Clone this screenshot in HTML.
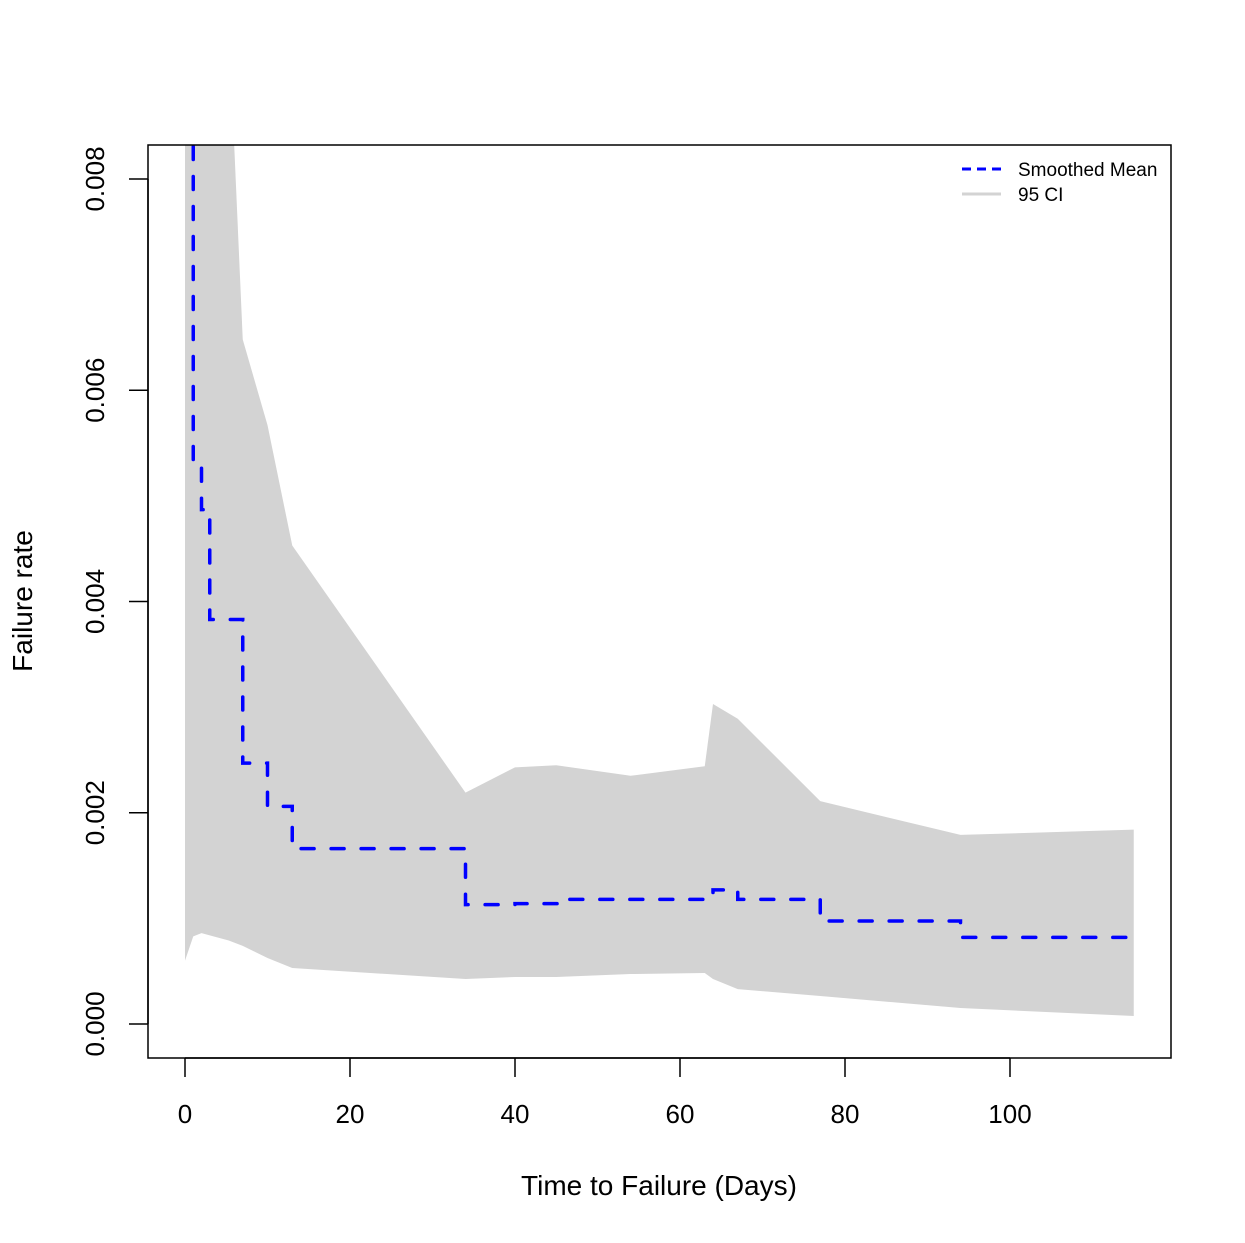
<!DOCTYPE html>
<html><head><meta charset="utf-8"><style>
body{margin:0;background:#fff}
svg{display:block;font-family:"Liberation Sans",Arial,sans-serif}
</style></head><body>
<svg id="c" width="1245" height="1243">
<defs><clipPath id="clip"><rect x="148" y="145" width="1023" height="913"/></clipPath></defs>
<g id="plot" clip-path="url(#clip)"></g>
<rect x="148" y="145" width="1023" height="913" fill="none" stroke="#000" stroke-width="1.5"/>
<g id="axes"></g>
<text x="659" y="1195" font-size="28" text-anchor="middle">Time to Failure (Days)</text>
<text transform="translate(32,601) rotate(-90)" font-size="28" text-anchor="middle">Failure rate</text>
<g>
<line x1="962" y1="169" x2="1001" y2="169" stroke="#00f" stroke-width="3" stroke-dasharray="9 6"/>
<text x="1018" y="176" font-size="19">Smoothed Mean</text>
<line x1="962" y1="194" x2="1001" y2="194" stroke="#d3d3d3" stroke-width="3"/>
<text x="1018" y="201" font-size="19">95 CI</text>
</g>
</svg>
<script>
const ciX=[0,1,2,5.3,7,10,13,34,40,45,54,63,64,67,77,94,115];
const ciUpper=[0.0095,0.0095,0.0095,0.0095,0.00648,0.00567,0.00453,0.00219,0.00243,0.00245,0.00235,0.00244,0.00303,0.00289,0.00211,0.00179,0.00184];
const ciLower=[0.0006,0.00083,0.00086,0.00079,0.00074,0.000625,0.00053,0.000426,0.000445,0.000445,0.000473,0.000483,0.000426,0.00033,0.000265,0.000151,0.000076];
const meanX=[1,1,2,3,7,10,13,34,40,46,54,63,64,67,77,94,115];
const meanY=[0.012,0.0053,0.00487,0.00383,0.00247,0.00206,0.00166,0.00113,0.00114,0.00118,0.00118,0.00118,0.00127,0.00118,0.000975,0.00082,0.00082];
const xTicks=[0,20,40,60,80,100];
const yTicks=[0,0.002,0.004,0.006,0.008];
const yTickLabels=["0.000","0.002","0.004","0.006","0.008"];
const sx=v=>185+v*8.25, sy=v=>1024-v*105625;
const NS="http://www.w3.org/2000/svg";
const plot=document.getElementById('plot'), axes=document.getElementById('axes');
function mk(tag,attrs,parent){const e=document.createElementNS(NS,tag);for(const k in attrs)e.setAttribute(k,attrs[k]);parent.appendChild(e);return e;}
let pts=ciX.map((x,i)=>sx(x)+','+sy(ciUpper[i]));
for(let i=ciX.length-1;i>=0;i--)pts.push(sx(ciX[i])+','+sy(ciLower[i]));
const band=mk('polygon',{points:pts.join(' '),fill:'#d3d3d3'},plot);


let d='M'+sx(meanX[0])+','+sy(meanY[0]);
for(let i=1;i<meanX.length;i++){d+=' H'+sx(meanX[i])+' V'+sy(meanY[i]);}
const ml=mk('path',{d:d,fill:'none',stroke:'#00f','stroke-width':3.5,'stroke-dasharray':'13 17','stroke-linecap':'round'},plot);


mk('line',{x1:sx(xTicks[0]),x2:sx(xTicks[xTicks.length-1]),y1:1058,y2:1058,stroke:'#000','stroke-width':1.5},axes);
xTicks.forEach(t=>{
  mk('line',{x1:sx(t),x2:sx(t),y1:1058,y2:1077,stroke:'#000','stroke-width':1.5},axes);
  const tx=mk('text',{x:sx(t),y:1123,'font-size':26,'text-anchor':'middle'},axes);tx.textContent=t;
  
  
});
yTicks.forEach((t,i)=>{
  mk('line',{x1:129,x2:148,y1:sy(t),y2:sy(t),stroke:'#000','stroke-width':1.5},axes);
  const tx=mk('text',{transform:`translate(104,${sy(t)}) rotate(-90)`,'font-size':26,'text-anchor':'middle'},axes);tx.textContent=yTickLabels[i];
  
  
});
mk('line',{x1:148,x2:148,y1:sy(0),y2:sy(0.008),stroke:'#000','stroke-width':1.5},axes);
</script>
</body></html>
